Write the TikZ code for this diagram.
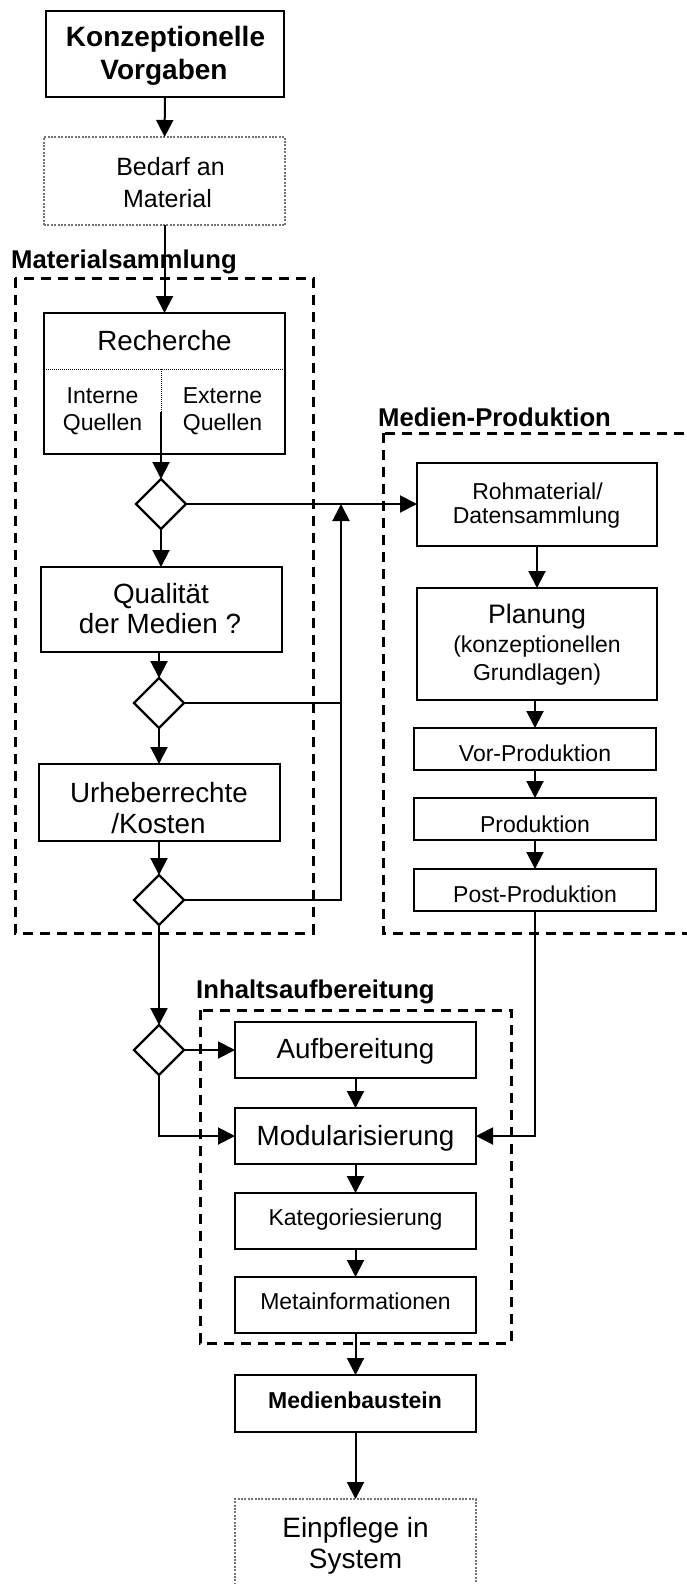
\documentclass[tikz,border=0pt]{standalone}
\usepackage{fontspec}
\setmainfont{Liberation Sans}
\usetikzlibrary{arrows.meta,shapes.geometric}

\begin{document}
\begin{tikzpicture}[x=1pt,y=-1pt,
  box/.style={draw, rectangle, line width=2.2pt, inner sep=0pt, outer sep=0pt},
  softbox/.style={draw=black!55, rectangle, line width=2.6pt, dash pattern=on 2pt off 1.4pt, inner sep=0pt, outer sep=0pt},
  group/.style={draw, line width=3pt, dash pattern=on 10pt off 7pt},
  divider/.style={line width=1pt, dash pattern=on 1pt off 1pt},
  choice/.style={draw, diamond, line width=2.2pt, minimum width=50pt, minimum height=50pt, inner sep=0pt, outer sep=0pt},
  flow/.style={line width=2pt, -{Triangle[length=17pt,width=17pt]}},
  link/.style={line width=2pt},
  big/.style={font=\fontsize{27.8}{31}\selectfont, inner sep=0pt, anchor=base},
  small/.style={font=\fontsize{23}{26}\selectfont, inner sep=0pt, anchor=base},
  title/.style={font=\bfseries\fontsize{25.7}{28}\selectfont, inner sep=0pt, anchor=base west},
]
\useasboundingbox (0,0) rectangle (687,1584);
\clip (0,0) rectangle (687,1584);

% group frames
\draw[group] (15,278) rectangle (313,933);
\draw[group] (383,433) rectangle (705,933);
\draw[group] (200,1010) rectangle (511,1343);
\node[title] (g-mat) at (11,268) {Materialsammlung};
\node[title] (g-med) at (378,426) {Medien-Produktion};
\node[title] (g-inh) at (196,998) {Inhaltsaufbereitung};

% left column
\node[box, minimum width=238pt, minimum height=86pt] (konz) at (165,54) {};
\node[inner sep=0pt, anchor=base, font=\bfseries\fontsize{28}{31}\selectfont] (konz-a) at (165.5,47) {Konzeptionelle};
\node[inner sep=0pt, anchor=base, font=\bfseries\fontsize{28}{31}\selectfont] (konz-b) at (164,80) {Vorgaben};

\node[softbox, minimum width=241pt, minimum height=88pt] (bedarf) at (164.5,181) {};
\node[inner sep=0pt, anchor=base, font=\fontsize{25}{30}\selectfont] (bedarf-a) at (170.5,175) {Bedarf an};
\node[inner sep=0pt, anchor=base, font=\fontsize{25}{30}\selectfont] (bedarf-b) at (167.5,207) {Material};

\node[box, minimum width=241pt, minimum height=141pt] (rech) at (164.5,383.5) {};
\node[big] (rech-a) at (164.5,350) {Recherche};
\node[small] (int-a) at (102.5,403) {Interne};
\node[small] (int-b) at (102.5,430) {Quellen};
\node[small] (ext-a) at (222.5,403) {Externe};
\node[small] (ext-b) at (222.5,430) {Quellen};
\coordinate (rdiv-l) at (44,369);
\coordinate (rdiv-r) at (285,369);
\coordinate (rdiv-m) at (161,369);
\coordinate (rsplit) at (161,412);
\draw[divider] (rdiv-l) -- (rdiv-r);
\draw[divider] (rdiv-m) -- (rsplit);

\node[choice] (d1) at (161,504) {};

\node[box, minimum width=241pt, minimum height=85pt] (qual) at (161.5,609.5) {};
\node[big] (qual-a) at (161,603) {Qualität};
\node[big] (qual-b) at (160,633) {der Medien ?};

\node[choice] (d2) at (159,703) {};

\node[box, minimum width=241pt, minimum height=77pt] (urh) at (159.5,802.5) {};
\node[big] (urh-a) at (159,802) {Urheberrechte};
\node[big] (urh-b) at (158.5,833) {/Kosten};

\node[choice] (d3) at (159,900) {};
\node[choice] (d4) at (159,1050) {};
\coordinate (riser) at (341,504);

% production column
\node[box, minimum width=240pt, minimum height=83pt] (roh) at (537,504.5) {};
\node[small] (roh-a) at (537.5,499) {Rohmaterial/};
\node[small] (roh-b) at (536.5,523) {Datensammlung};

\node[box, minimum width=240pt, minimum height=112pt] (plan) at (537,644) {};
\node[inner sep=0pt, anchor=base, font=\fontsize{26.7}{30}\selectfont] (plan-a) at (537,623) {Planung};
\node[small] (plan-b) at (537,652) {(konzeptionellen};
\node[small] (plan-c) at (537,680) {Grundlagen)};

\node[box, minimum width=242pt, minimum height=42pt] (vor) at (535,749) {};
\node[small] (vor-a) at (535,761) {Vor-Produktion};
\node[box, minimum width=242pt, minimum height=42pt] (prod) at (535,819) {};
\node[small] (prod-a) at (535,832) {Produktion};
\node[box, minimum width=242pt, minimum height=42pt] (post) at (535,890) {};
\node[small] (post-a) at (535,902) {Post-Produktion};

% content preparation
\node[box, minimum width=241pt, minimum height=56pt] (aufb) at (355.5,1050) {};
\node[big] (aufb-a) at (355.5,1058) {Aufbereitung};
\node[box, minimum width=241pt, minimum height=56pt] (modul) at (355.5,1136) {};
\node[big] (modul-a) at (355.5,1145) {Modularisierung};
\node[box, minimum width=241pt, minimum height=56pt] (kat) at (355.5,1221) {};
\node[small] (kat-a) at (355.5,1225) {Kategoriesierung};
\node[box, minimum width=241pt, minimum height=56pt] (meta) at (355.5,1305) {};
\node[small] (meta-a) at (355.5,1309) {Metainformationen};

\node[box, minimum width=241pt, minimum height=57pt] (mbau) at (355.5,1403.5) {};
\node[inner sep=0pt, anchor=base, font=\bfseries\fontsize{23}{26}\selectfont] (mbau-a) at (355,1408) {Medienbaustein};

\node[softbox, minimum width=241pt, minimum height=121pt] (einpf) at (355.5,1559.5) {};
\node[inner sep=0pt, anchor=base, font=\fontsize{28}{31}\selectfont] (einpf-a) at (355.5,1537) {Einpflege in};
\node[inner sep=0pt, anchor=base, font=\fontsize{28}{31}\selectfont] (einpf-b) at (355.5,1568) {System};

% connectors
\draw[flow] (konz) -- (bedarf);
\draw[flow] (bedarf) -- (rech);
\draw[flow] (rsplit) -- (d1.north);
\draw[flow] (d1.south) -- (d1.south |- qual.north);
\draw[flow] (d2.north |- qual.south) -- (d2.north);
\draw[flow] (d2.south) -- (d2.south |- urh.north);
\draw[flow] (d3.north |- urh.south) -- (d3.north);
\draw[flow] (d3.south) -- (d4.north);
\draw[flow] (d1.east) -- (d1.east -| roh.west);
\draw[link] (d2.east) -- (d2.east -| riser);
\draw[flow] (d3.east) -| (riser);

\draw[flow] (roh) -- (plan);
\draw[flow] (vor.north |- plan.south) -- (vor.north);
\draw[flow] (vor) -- (prod);
\draw[flow] (prod) -- (post);
\draw[flow] (post.south) |- (modul.east);

\draw[flow] (d4.east) -- (aufb.west);
\draw[flow] (d4.south) |- (modul.west);
\draw[flow] (aufb) -- (modul);
\draw[flow] (modul) -- (kat);
\draw[flow] (kat) -- (meta);
\draw[flow] (meta) -- (mbau);
\draw[flow] (mbau) -- (einpf);
\end{tikzpicture}
\end{document}
